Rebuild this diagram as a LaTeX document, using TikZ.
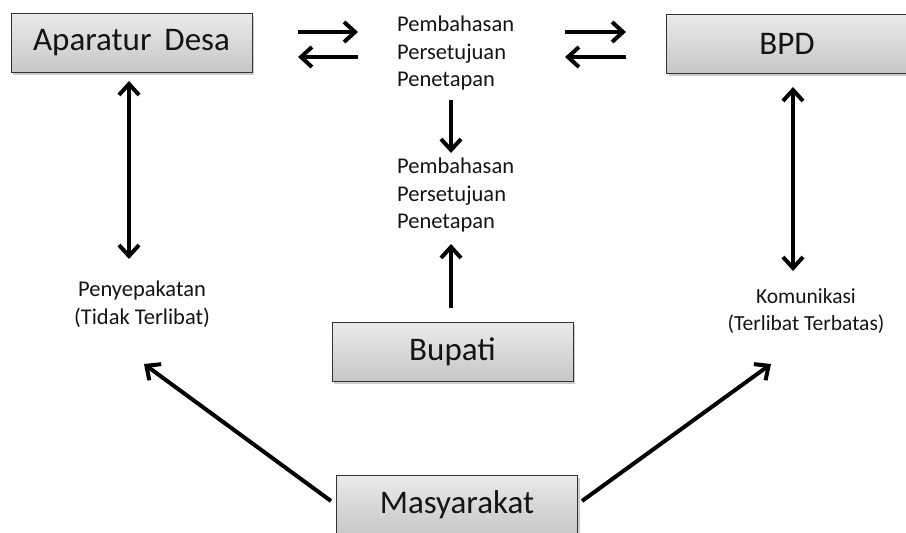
\documentclass[tikz,border=0pt]{standalone}
\usepackage{fontspec}
\setmainfont{Carlito}
\usetikzlibrary{arrows.meta,shadows}
\tikzset{
  boxnode/.style={draw=black!80, line width=1pt, top color=black!8, bottom color=black!22,
    minimum width=241pt, minimum height=59pt, inner sep=0pt,
    font=\fontsize{33}{38}\selectfont, text=black!92,
    drop shadow={shadow xshift=2pt, shadow yshift=-3pt, fill=black!40, opacity=0.5}},
  lbl/.style={font=\fontsize{22.5}{27.5}\selectfont, text=black!92, inner sep=0pt},
  tip/.tip={Straight Barb[length=11pt, width=20pt, line width=4pt]},
  arr/.style={line width=4pt, -tip},
  darr/.style={line width=4pt, tip-tip}
}
\newcommand{\boxtext}[1]{\raisebox{-3pt}{#1}}
\begin{document}
\begin{tikzpicture}[x=1pt,y=-1pt]
\useasboundingbox (0,0) rectangle (906,533);
\node[boxnode] (apa) at (131.5,42.5) {\boxtext{Aparatur\, Desa}};
\node[boxnode] (bpd) at (787,43.5) {\boxtext{BPD}};
\node[boxnode] (bup) at (452.5,351.5) {\boxtext{Bupati}};
\node[boxnode] (mas) at (457,504.5) {\boxtext{Masyarakat}};

\node[lbl, align=left, anchor=north west] (t1) at (397,16) {Pembahasan\\Persetujuan\\Penetapan};
\node[lbl, align=left, anchor=north west] (t2) at (397,158) {Pembahasan\\Persetujuan\\Penetapan};
\node[lbl, align=center] (pen) at (142,304) {Penyepakatan\\(Tidak Terlibat)};
\node[lbl, align=center, font=\fontsize{21.5}{27.5}\selectfont] (kom) at (806,311) {Komunikasi\\(Terlibat Terbatas)};

\coordinate (a1s) at (298,32); \coordinate (a1e) at (358,32);
\coordinate (a2s) at (358,57); \coordinate (a2e) at (298,57);
\coordinate (b1s) at (565,32); \coordinate (b1e) at (626,32);
\coordinate (b2s) at (626,57); \coordinate (b2e) at (565,57);
\draw[arr] (a1s) -- (a1e);
\draw[arr] (a2s) -- (a2e);
\draw[arr] (b1s) -- (b1e);
\draw[arr] (b2s) -- (b2e);

\coordinate (d1s) at (451,100); \coordinate (d1e) at (451,153);
\draw[arr] (d1s) -- (d1e);
\coordinate (u1s) at (451,308); \coordinate (u1e) at (451,244);
\draw[arr] (u1s) -- (u1e);

\coordinate (l1) at (129,81); \coordinate (l2) at (129,259);
\draw[darr] (l1) -- (l2);
\coordinate (r1) at (793,87); \coordinate (r2) at (793,271);
\draw[darr] (r1) -- (r2);

\coordinate (ml) at (331,501); \coordinate (pl) at (144,364);
\draw[arr] (ml) -- (pl);
\coordinate (mr) at (582,501); \coordinate (pr) at (771,364);
\draw[arr] (mr) -- (pr);
\end{tikzpicture}
\end{document}
